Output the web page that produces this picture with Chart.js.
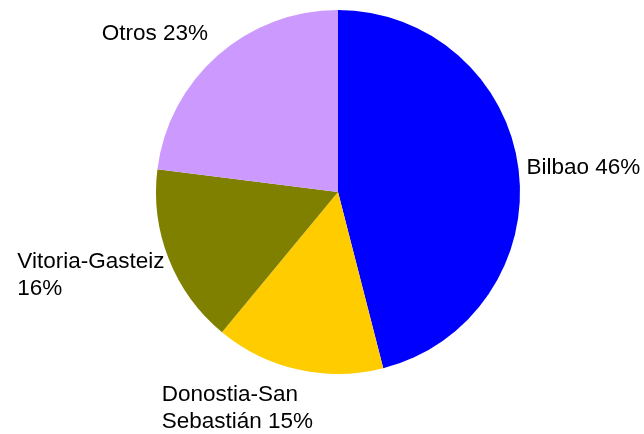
<!DOCTYPE html>
<html>
<head>
<meta charset="utf-8">
<script src="https://cdn.jsdelivr.net/npm/chart.js@4/dist/chart.umd.min.js"></script>
<style>
  html, body { margin: 0; padding: 0; background: #fff; }
  #wrap { width: 644px; height: 434px; }
</style>
</head>
<body>
<div id="wrap"><canvas id="grafica" width="644" height="434"></canvas></div>
<script>
const categories = ['Bilbao', 'Donostia-San Sebastián', 'Vitoria-Gasteiz', 'Otros'];
const shares = [46, 15, 16, 23];
const sliceColors = ['#0000FF', '#FFCC00', '#808000', '#CC99FF'];

// small nudges so the labels sit where the original ones do
const labelNudge = [
  { dx: -2, dy: 2 },
  { dx: 17, dy: 3 },
  { dx: 5, dy: 3 },
  { dx: -3, dy: -4 }
];

const labelFont = '22.5px "Liberation Sans", Arial, sans-serif';
const lineHeight = 27;
const maxLabelWidth = 165;

function wrapText(ctx, text) {
  const words = text.split(' ');
  const lines = [];
  let line = '';
  words.forEach(w => {
    const test = line ? line + ' ' + w : w;
    if (line && ctx.measureText(test).width > maxLabelWidth) {
      lines.push(line);
      line = w;
    } else {
      line = test;
    }
  });
  if (line) lines.push(line);
  return lines;
}

const pieLabels = {
  id: 'pieLabels',
  afterDatasetsDraw(chart) {
    const ctx = chart.ctx;
    const meta = chart.getDatasetMeta(0);
    ctx.save();
    ctx.font = labelFont;
    ctx.fillStyle = '#000';
    ctx.textBaseline = 'middle';
    ctx.textAlign = 'left';
    meta.data.forEach((arc, i) => {
      const mid = (arc.startAngle + arc.endAngle) / 2;
      const dirX = Math.cos(mid), dirY = Math.sin(mid);
      const r = arc.outerRadius + 10;
      const ax = arc.x + dirX * r + labelNudge[i].dx;
      const ay = arc.y + dirY * r + labelNudge[i].dy;
      const lines = wrapText(ctx, categories[i] + ' ' + shares[i] + '%');
      const w = Math.max(...lines.map(l => ctx.measureText(l).width));
      const h = lines.length * lineHeight;
      const top = ay - h / 2 + dirY * h / 2;
      const left = dirX >= 0 ? ax : ax - w;
      lines.forEach((ln, k) => {
        ctx.fillText(ln, left, top + lineHeight * k + lineHeight / 2);
      });
    });
    ctx.restore();
  }
};

const ctx = document.getElementById('grafica').getContext('2d');
const chart = new Chart(ctx, {
  type: 'pie',
  data: {
    labels: categories,
    datasets: [{
      data: shares,
      backgroundColor: sliceColors,
      borderWidth: 0
    }]
  },
  options: {
    responsive: false,
    animation: false,
    layout: { padding: { top: 10, bottom: 60, left: 156, right: 124 } },
    plugins: {
      legend: { display: false },
      tooltip: { enabled: false }
    }
  },
  plugins: [pieLabels]
});
</script>
</body>
</html>
